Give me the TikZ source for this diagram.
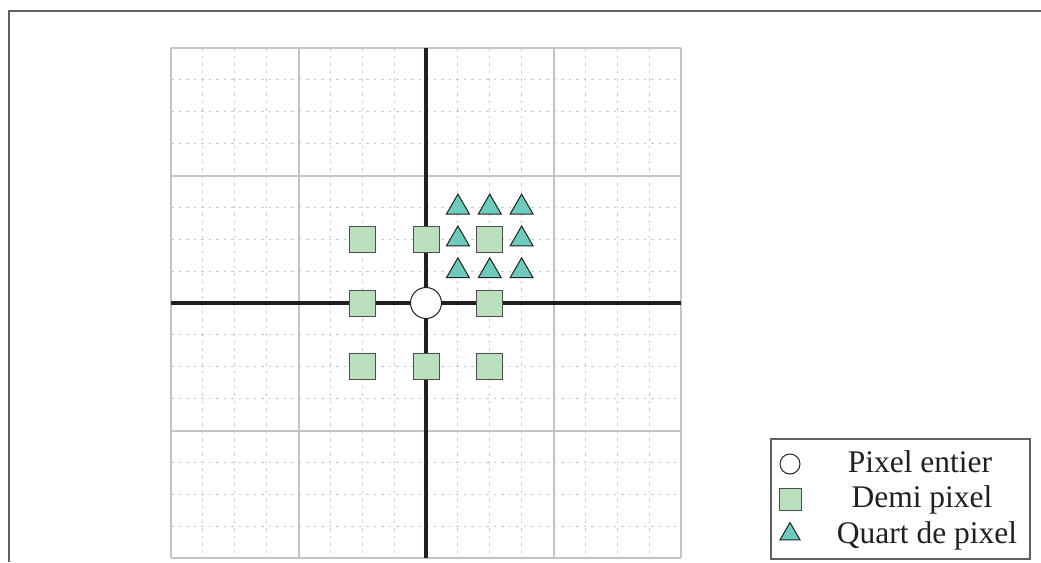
\documentclass[tikz,border=0pt]{standalone}
\usepackage{fontspec}
\setmainfont{Liberation Serif}
\usetikzlibrary{shapes.geometric}
\definecolor{sqfill}{HTML}{B9DFBD}
\definecolor{trifill}{HTML}{6CCABE}
\definecolor{ink}{HTML}{231F20}
\definecolor{majorgray}{HTML}{C4C4C4}
\definecolor{minorgray}{HTML}{C8C8C8}
\definecolor{framegray}{HTML}{606060}
\tikzset{
  minorline/.style={draw=minorgray, line width=0.9pt, dash pattern=on 2.5pt off 5pt},
  majorline/.style={draw=majorgray, line width=2pt},
  axisline/.style={draw=ink, line width=3.6pt},
  framelineS/.style={draw=framegray, line width=2pt},
  pix/.style={circle, draw=ink, fill=white, line width=1pt, minimum size=31pt, inner sep=0pt},
  half/.style={rectangle, draw=ink!80, fill=sqfill, line width=1pt, minimum size=26pt, inner sep=0pt},
  quart/.style={regular polygon, regular polygon sides=3, draw=ink, fill=trifill, line width=1pt, minimum size=26.5pt, inner sep=0pt},
  legpix/.style={pix, minimum size=20pt},
  leghalf/.style={half, minimum size=22pt},
  legquart/.style={quart, minimum size=23pt},
  legtext/.style={anchor=base, inner sep=0pt, font=\fontsize{31.5}{36}\selectfont, text=ink},
}
\begin{document}
\begin{tikzpicture}[x=1pt, y=-1pt]
\useasboundingbox (0,0) rectangle (1041,562);
% outer frame (top and left)
\coordinate (ftl) at (9,11);
\coordinate (ftr) at (1041,11);
\coordinate (fbl) at (9,562);
\draw[framelineS] (ftr) -- (ftl) -- (fbl);
% minor grid
\foreach \i in {1,...,15} {
  \draw[minorline] ({171+\i*31.875},48) -- ({171+\i*31.875},558);
  \draw[minorline] (171,{48+\i*31.875}) -- (681,{48+\i*31.875});
}
% major grid
\foreach \i in {0,...,4} {
  \draw[majorline] ({171+\i*127.5},48) -- ({171+\i*127.5},558);
  \draw[majorline] (171,{48+\i*127.5}) -- (681,{48+\i*127.5});
}
% axes
\coordinate (axl) at (171,303);
\coordinate (axr) at (681,303);
\coordinate (axt) at (426,48);
\coordinate (axb) at (426,558);
\draw[axisline] (axl) -- (axr);
\draw[axisline] (axt) -- (axb);
% half-pixel positions
\node[half] (h1) at (362.25,239.25) {};
\node[half] (h2) at (426,239.25) {};
\node[half] (h3) at (489.75,239.25) {};
\node[half] (h4) at (362.25,303) {};
\node[half] (h5) at (489.75,303) {};
\node[half] (h6) at (362.25,366.75) {};
\node[half] (h7) at (426,366.75) {};
\node[half] (h8) at (489.75,366.75) {};
% integer pixel
\node[pix] (p0) at (426,303) {};
% quarter-pixel positions
\node[quart] (q1) at (457.9,207.4) {};
\node[quart] (q2) at (489.75,207.4) {};
\node[quart] (q3) at (521.6,207.4) {};
\node[quart] (q4) at (457.9,239.25) {};
\node[quart] (q5) at (521.6,239.25) {};
\node[quart] (q6) at (457.9,271.1) {};
\node[quart] (q7) at (489.75,271.1) {};
\node[quart] (q8) at (521.6,271.1) {};
% legend
\node[draw=framegray, line width=1.2pt, fill=white, minimum width=259pt, minimum height=120pt, inner sep=0pt] (leg) at (900.5,499) {};
\node[legpix] (lp) at (790,464) {};
\node[leghalf] (lh) at (790,499) {};
\node[legquart] (lq) at (790,534) {};
\node[legtext] (tp) at (920,472) {Pixel entier};
\node[legtext] (th) at (922,507.5) {Demi pixel};
\node[legtext] (tq) at (927,543) {Quart de pixel};
\end{tikzpicture}
\end{document}
